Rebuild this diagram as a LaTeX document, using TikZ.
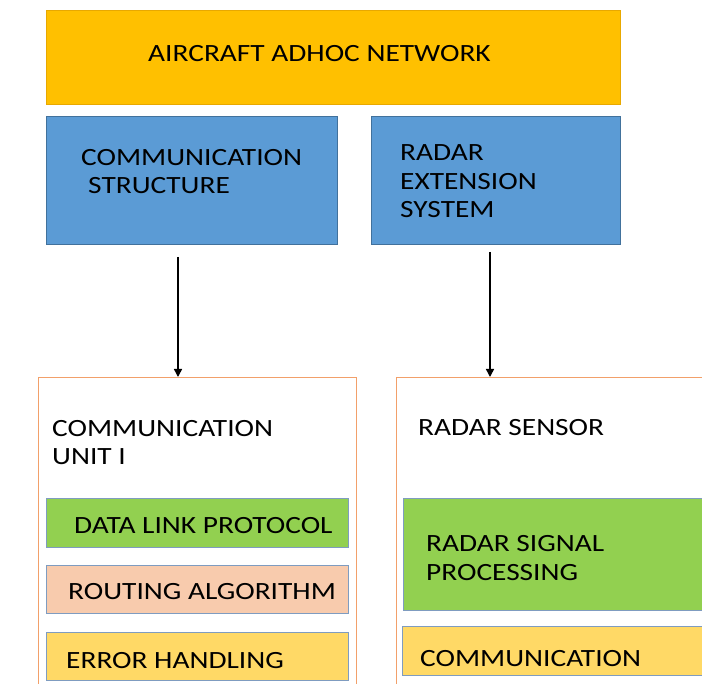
\documentclass[tikz,border=0pt]{standalone}
\usepackage{fontspec}
\setmainfont{Carlito}[FakeStretch=1.185]
\usetikzlibrary{arrows.meta}
\definecolor{topor}{HTML}{FFC000}
\definecolor{topbd}{HTML}{E8A800}
\definecolor{blu}{HTML}{5B9BD5}
\definecolor{blubd}{HTML}{41719C}
\definecolor{contbd}{HTML}{F2A06A}
\definecolor{grn}{HTML}{92D050}
\definecolor{peach}{HTML}{F8CBAD}
\definecolor{yel}{HTML}{FFD966}
\definecolor{innbd}{HTML}{7F9CC0}
\begin{document}
\begin{tikzpicture}[x=1pt,y=-1pt,
  box/.style={draw, line width=0.8pt, inner sep=0pt, outer sep=0pt},
  lbl/.style={anchor=base west, inner sep=0pt, align=left, font=\fontsize{24.8}{28.5}\selectfont, text=black},
  arr/.style={-{Triangle[length=8pt,width=8pt]}, line width=1.5pt}]
\useasboundingbox (0,0) rectangle (702,684);
\clip (0,0) rectangle (702,684);
% top
\node[box, draw=topbd, fill=topor, minimum width=574pt, minimum height=94pt] (top) at (333,57) {};
\node[lbl] (toptxt) at (148,62) {AIRCRAFT ADHOC NETWORK};
% blue boxes
\node[box, draw=blubd, fill=blu, minimum width=291pt, minimum height=128pt] (cs) at (191.5,180) {};
\node[box, draw=blubd, fill=blu, minimum width=249pt, minimum height=128pt] (res) at (495.5,180) {};
\node[lbl] (cstxt) at (81,194) {COMMUNICATION\\\hspace*{7pt}STRUCTURE};
\node[lbl] (restxt) at (400,218) {RADAR\\EXTENSION\\SYSTEM};
% containers
\node[box, draw=contbd, fill=white, minimum width=318pt, minimum height=340pt] (c1) at (197,547) {};
\node[box, draw=contbd, fill=white, minimum width=330pt, minimum height=340pt] (c2) at (561,547) {};
\node[lbl] (c1txt) at (52,465) {COMMUNICATION\\UNIT I};
\node[lbl] (c2txt) at (418,436) {RADAR SENSOR};
% inner boxes
\node[box, draw=innbd, fill=grn, minimum width=302pt, minimum height=49pt] (dlp) at (197,522.5) {};
\node[box, draw=innbd, fill=peach, minimum width=302pt, minimum height=48pt] (ra) at (197,589) {};
\node[box, draw=innbd, fill=yel, minimum width=302pt, minimum height=48pt] (eh) at (197,656) {};
\node[lbl] (dlptxt) at (74,533) {DATA LINK PROTOCOL};
\node[lbl] (ratxt) at (68,599) {ROUTING ALGORITHM};
\node[lbl] (ehtxt) at (66,668) {ERROR HANDLING};
\node[box, draw=innbd, fill=grn, minimum width=320pt, minimum height=112pt] (rsp) at (563,554) {};
\node[box, draw=innbd, fill=yel, minimum width=320pt, minimum height=49pt] (com) at (562,650.5) {};
\node[lbl] (rsptxt) at (426,580) {RADAR SIGNAL\\PROCESSING};
\node[lbl] (comtxt) at (420,666) {COMMUNICATION};
% arrows
\coordinate (a1) at (178,257);
\coordinate (a2) at (490,252);
\draw[arr] (a1) -- (a1 |- c1.north);
\draw[arr] (a2) -- (a2 |- c2.north);
\end{tikzpicture}
\end{document}
